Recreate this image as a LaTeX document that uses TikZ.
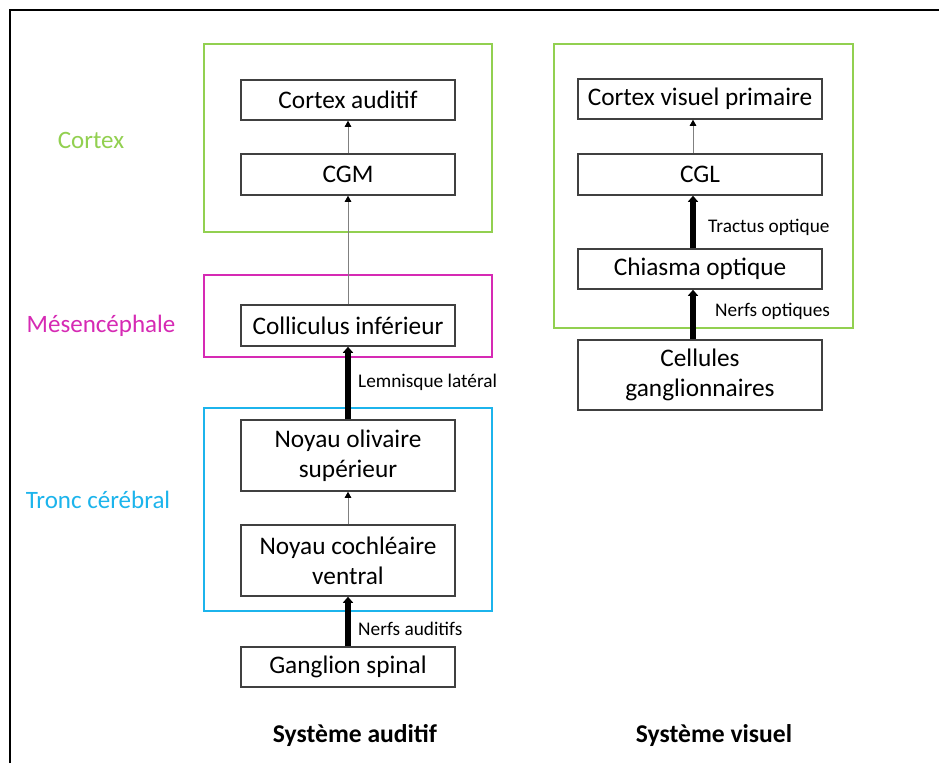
\documentclass[tikz,border=0pt]{standalone}
\usepackage{fontspec}
\setmainfont{Carlito}
\usetikzlibrary{arrows.meta}
\definecolor{cgreen}{HTML}{92D050}
\definecolor{cmag}{HTML}{D62AB4}
\definecolor{cblue}{HTML}{1CB4EC}
\definecolor{boxline}{HTML}{404040}
\begin{document}
\begin{tikzpicture}[x=1pt,y=-1pt,
  box/.style={draw=boxline,line width=1.5pt,rectangle,inner sep=0pt,align=center,
    font=\fontsize{25.3}{30}\selectfont,text=black},
  frame/.style={line width=2pt},
  lbl/.style={font=\fontsize{25}{30}\selectfont},
  small/.style={font=\fontsize{19.3}{23}\selectfont,anchor=west,inner sep=0pt},
  title/.style={font=\fontsize{25.6}{30}\selectfont\bfseries},
  thin/.style={draw=gray,line width=0.9pt,-{Triangle[width=6.5pt,length=6pt,black]}},
  thick/.style={draw=black,line width=6pt,-{Triangle[width=10pt,length=6pt]}}
]
\useasboundingbox (0,0) rectangle (939,763);
\fill[white] (0,0) rectangle (939,763);
\draw[line width=2pt] (10,763) -- (10,10) -- (939,10);

% colored frames
\draw[frame,cgreen] (204,44) rectangle (492,232);
\draw[frame,cmag] (204,275) rectangle (492,357);
\draw[frame,cblue] (204,408) rectangle (492,611);
\draw[frame,cgreen] (554,44) rectangle (853,328);

% region labels
\node[lbl,text=cgreen] (lcortex) at (91,140) {Cortex};
\node[lbl,text=cmag] (lmes) at (101,326) {Mésencéphale};
\node[lbl,text=cblue] (ltronc) at (98,500) {Tronc cérébral};

% auditory boxes
\node[box,minimum width=214pt,minimum height=40pt] (ca) at (348,100) {Cortex auditif};
\node[box,minimum width=214pt,minimum height=41pt] (cgm) at (348,174.5) {CGM};
\node[box,minimum width=214pt,minimum height=41pt] (ci) at (348,325.5) {Colliculus inférieur};
\node[box,minimum width=214pt,minimum height=71pt] (nos) at (348,455.5) {Noyau olivaire\\supérieur};
\node[box,minimum width=214pt,minimum height=71pt] (ncv) at (348,560.5) {Noyau cochléaire\\ventral};
\node[box,minimum width=214pt,minimum height=40pt] (gs) at (348,667) {Ganglion spinal};

% visual boxes
\node[box,minimum width=244pt,minimum height=40pt] (cvp) at (700,99) {Cortex visuel primaire};
\node[box,minimum width=244pt,minimum height=41pt] (cgl) at (700,174.5) {CGL};
\node[box,minimum width=244pt,minimum height=40pt] (co) at (700,269) {Chiasma optique};
\node[box,minimum width=244pt,minimum height=70pt] (cg) at (700,375) {Cellules\\ganglionnaires};

% arrows auditory
\draw[thin] (cgm.north) -- (ca.south);
\draw[thin] (ci.north) -- (cgm.south);
\draw[thick] (nos.north) -- (ci.south);
\draw[thin] (ncv.north) -- (nos.south);
\draw[thick] (gs.north) -- (ncv.south);

% arrows visual
\draw[thin] ([xshift=-7pt]cgl.north) -- ([xshift=-7pt]cvp.south);
\draw[thick] ([xshift=-7pt]co.north) -- ([xshift=-7pt]cgl.south);
\draw[thick] ([xshift=-7pt]cg.north) -- ([xshift=-7pt]co.south);

% arrow labels
\node[small] (t1) at (358,382) {Lemnisque latéral};
\node[small] (t2) at (358,629) {Nerfs auditifs};
\node[small] (t3) at (708,227) {Tractus optique};
\node[small] (t4) at (715,311) {Nerfs optiques};

% titles
\node[title] (sa) at (355,736) {Système auditif};
\node[title] (sv) at (714,736) {Système visuel};
\end{tikzpicture}
\end{document}
